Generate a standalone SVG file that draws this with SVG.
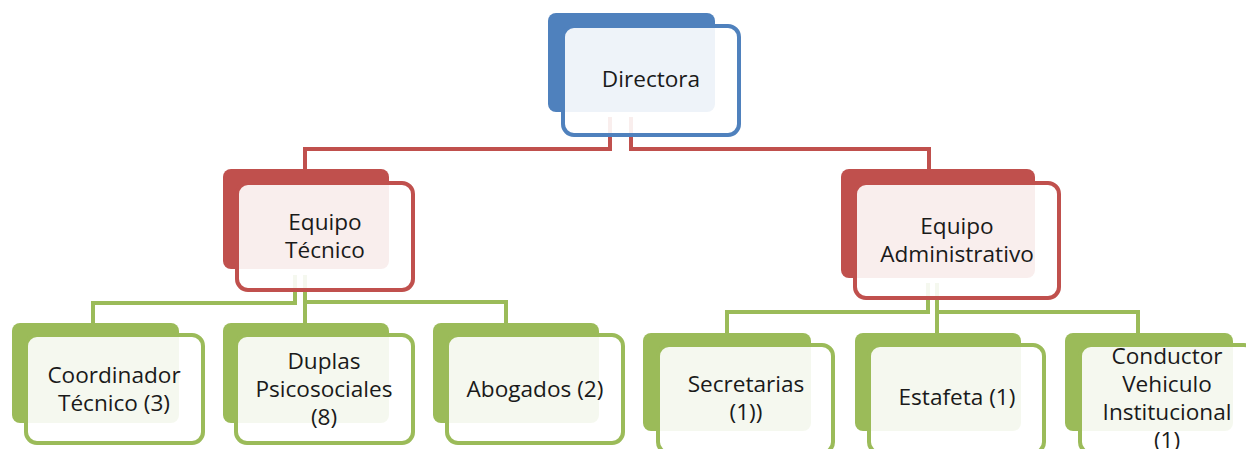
<svg xmlns="http://www.w3.org/2000/svg" width="1246" height="449" viewBox="0 0 1246 449">
<style>
.t{font-family:"Open Sans","Noto Sans","DejaVu Sans",sans-serif;font-size:22.6px;fill:#1a1a1a;text-anchor:middle}
.bb{fill:#4F81BD}.fb{fill:#fff;fill-opacity:0.9;stroke:#4F81BD;stroke-width:4}
.br{fill:#C0504D}.fr{fill:#fff;fill-opacity:0.9;stroke:#C0504D;stroke-width:4}
.bg{fill:#9BBB59}.fg{fill:#fff;fill-opacity:0.9;stroke:#9BBB59;stroke-width:4}
.cr{fill:none;stroke:#C0504D;stroke-width:4}
.cg{fill:none;stroke:#9BBB59;stroke-width:4}
</style>
<g id="connectors">
<path class="cr" d="M610,117 V149 H305 V169"/>
<path class="cr" d="M631,117 V149 H929 V169"/>
<path class="cg" d="M295,275 V303 H93 V323"/>
<path class="cg" d="M305,275 V323 M305,302 H506 V323"/>
<path class="cg" d="M928,283 V312 H727 V333"/>
<path class="cg" d="M937,283 V333 M937,312 H1138 V333"/>
</g>
<g id="directora">
<rect class="bb" x="548" y="13" width="167" height="99" rx="8"/>
<rect class="fb" x="563" y="26" width="176" height="109" rx="11"/>
<text class="t" x="651" y="87">Directora</text>
</g>
<g id="equipo-tecnico">
<rect class="br" x="223" y="169" width="166" height="100" rx="8"/>
<rect class="fr" x="237" y="183" width="176" height="107" rx="11"/>
<text class="t" x="325" y="230">Equipo</text>
<text class="t" x="325" y="258">Técnico</text>
</g>
<g id="equipo-administrativo">
<rect class="br" x="841" y="169" width="194" height="109" rx="8"/>
<rect class="fr" x="855" y="183" width="204" height="115" rx="11"/>
<text class="t" x="957" y="234">Equipo</text>
<text class="t" x="957" y="262">Administrativo</text>
</g>
<g id="coordinador">
<rect class="bg" x="12" y="323" width="167" height="100" rx="8"/>
<rect class="fg" x="26" y="335" width="177" height="108" rx="11"/>
<text class="t" x="114" y="383">Coordinador</text>
<text class="t" x="114" y="411">Técnico (3)</text>
</g>
<g id="duplas">
<rect class="bg" x="223" y="323" width="166" height="100" rx="8"/>
<rect class="fg" x="236" y="335" width="177" height="108" rx="11"/>
<text class="t" x="324" y="369">Duplas</text>
<text class="t" x="324" y="397">Psicosociales</text>
<text class="t" x="324" y="425">(8)</text>
</g>
<g id="abogados">
<rect class="bg" x="433" y="323" width="166" height="100" rx="8"/>
<rect class="fg" x="447" y="335" width="176" height="108" rx="11"/>
<text class="t" x="535" y="397">Abogados (2)</text>
</g>
<g id="secretarias">
<rect class="bg" x="643" y="333" width="168" height="98" rx="8"/>
<rect class="fg" x="658" y="345" width="175" height="108" rx="11"/>
<text class="t" x="746" y="392">Secretarias</text>
<text class="t" x="746" y="420">(1))</text>
</g>
<g id="estafeta">
<rect class="bg" x="855" y="333" width="166" height="98" rx="8"/>
<rect class="fg" x="869" y="345" width="175" height="108" rx="11"/>
<text class="t" x="957" y="405">Estafeta (1)</text>
</g>
<g id="conductor">
<rect class="bg" x="1065" y="333" width="168" height="98" rx="8"/>
<rect class="fg" x="1080" y="345" width="175" height="108" rx="11"/>
<text class="t" x="1167" y="364">Conductor</text>
<text class="t" x="1167" y="392">Vehiculo</text>
<text class="t" x="1167" y="420">Institucional</text>
<text class="t" x="1167" y="448">(1)</text>
</g>
</svg>
